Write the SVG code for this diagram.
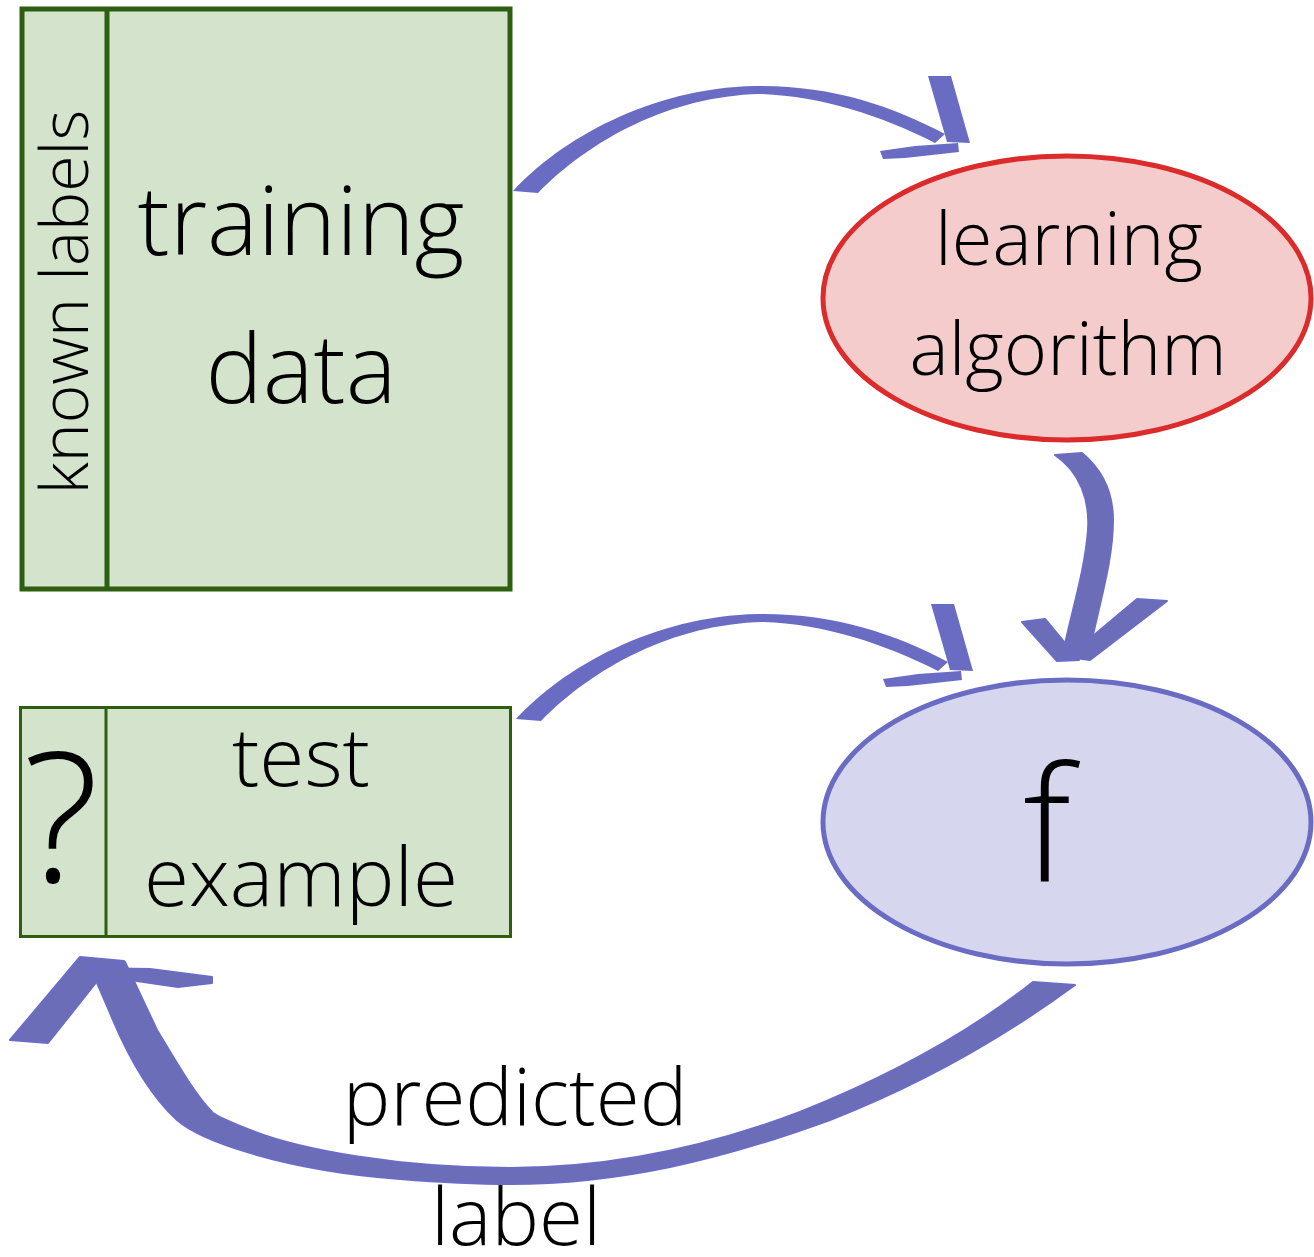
<svg xmlns="http://www.w3.org/2000/svg" width="1314" height="1257" viewBox="0 0 1314 1257">
<style>
.t{font-family:"Open Sans","Liberation Sans",sans-serif;font-weight:300;fill:#000;text-anchor:middle}
.box{fill:#d3e3cc;stroke:#2e5e0f}
.arr{fill:#6a6cc4}
.arr2{fill:#6b6db8;stroke:#6a6cc6;stroke-width:2;stroke-linejoin:round}
</style>
<defs>
<g id="curveArrow">
<path d="M513,191 C560,140 650,88 755,86 C830,85 890,105 945,134 L935,143 C880,115 820,96 760,94 C670,96 590,140 538,193 Z"/>
<path d="M928,76 L951,76 L970,143 L947,142 Z"/>
<path d="M880,151 L915,146 L958,143 L959,152 L905,158 L883,159 Z"/>
</g>
</defs>
<rect width="1314" height="1257" fill="#fff"/>
<g id="training">
<rect class="box" x="22" y="9" width="488" height="580" stroke-width="5"/>
<line x1="107" y1="9" x2="107" y2="589" stroke="#2e5e0f" stroke-width="5"/>
<text class="t" transform="translate(88,302) rotate(-90)" font-size="66">known labels</text>
<text class="t" x="301" y="255" font-size="96">training</text>
<text class="t" x="301" y="403" font-size="96">data</text>
</g>
<g id="test">
<rect class="box" x="20.5" y="707.5" width="490" height="229" stroke-width="3"/>
<line x1="106" y1="707.5" x2="106" y2="936.5" stroke="#2e5e0f" stroke-width="3"/>
<text class="t" x="61" y="882" font-size="180">?</text>
<text class="t" x="301" y="786" font-size="82">test</text>
<text class="t" x="301" y="906" font-size="82">example</text>
</g>
<g id="learning">
<ellipse cx="1067" cy="298" rx="244" ry="142" fill="#f4cccc" stroke="#db2b2b" stroke-width="5"/>
<text class="t" x="1069" y="265" font-size="74">learning</text>
<text class="t" x="1068" y="375" font-size="74">algorithm</text>
</g>
<g id="f">
<ellipse cx="1067" cy="822" rx="244" ry="142" fill="#d6d6ee" stroke="#6a6cc4" stroke-width="5"/>
<text class="t" x="1047" y="882" font-size="160">f</text>
</g>
<g id="connectors">
<use href="#curveArrow" class="arr"/>
<use href="#curveArrow" class="arr" transform="translate(3,528)"/>
<g class="arr2">
<path d="M1055,455 L1082,453 C1100,468 1113,490 1113,520 C1113,560 1100,600 1088,658 L1063,653 C1072,610 1085,570 1088,530 C1090,500 1080,472 1055,455 Z"/>
<path d="M1022,622 L1045,619 L1079,660 L1057,661 Z"/>
<path d="M1137,599 L1167,601 L1090,660 L1068,657 Z"/>
<path d="M1033,982 C960,1040 880,1080 800,1112 C700,1150 600,1168 510,1168 C400,1168 300,1150 250,1130 C230,1122 220,1118 213,1113 C195,1095 175,1060 157,1030 L125,962 L95,978 L113,1020 C130,1060 150,1095 177,1120 C200,1140 280,1170 400,1179 C450,1183 480,1184 510,1184 C620,1184 720,1160 830,1120 C920,1085 1000,1040 1075,985 Z"/>
<path d="M10,1040 L48,1043 L102,975 L124,961 L80,957 Z"/>
<path d="M87,968 L150,969 L212,977 L212,983 L178,987 L130,980 L90,978 Z"/>
</g>
</g>
<g id="edge-label">
<text class="t" x="515" y="1125" font-size="80">predicted</text>
<text class="t" x="516" y="1245" font-size="80">label</text>
</g>
</svg>
